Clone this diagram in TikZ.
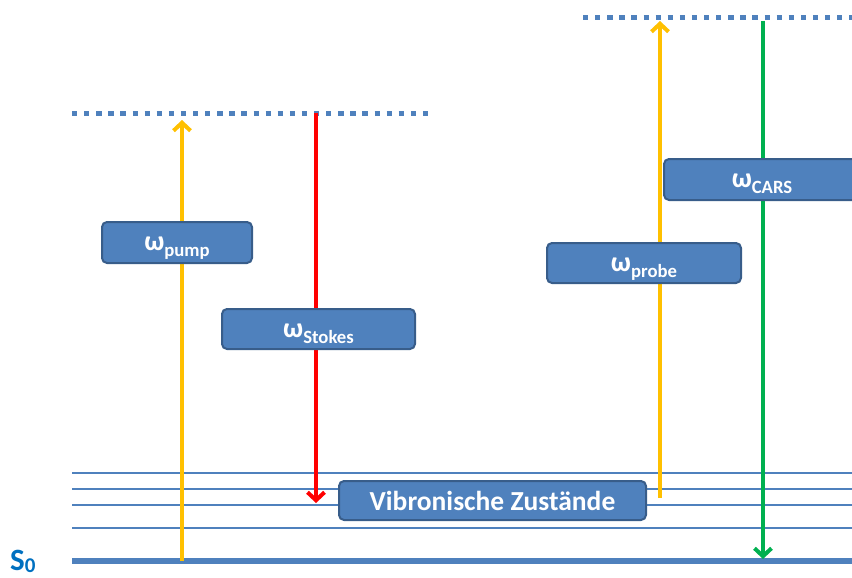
\documentclass[tikz,border=0pt]{standalone}
\usepackage{fontspec}
\setmainfont{Carlito}
\usetikzlibrary{arrows.meta}

\definecolor{niveau}{HTML}{4F81BD}
\definecolor{rahmen}{HTML}{385D8A}
\definecolor{gelb}{HTML}{FFC000}
\definecolor{rot}{HTML}{FF0000}
\definecolor{gruen}{HTML}{00B050}
\definecolor{sblau}{HTML}{0070C0}

\tikzset{
  feld/.style={draw=rahmen, fill=niveau, line width=2pt, rounded corners=5pt,
    text=white, inner sep=0pt, font=\bfseries\fontsize{27.5}{30}\selectfont},
  omfeld/.style={feld, font=\bfseries\fontsize{28}{30}\selectfont,
    text height=18pt, text depth=2pt},
  virtuell/.style={niveau, line width=5pt, dash pattern=on 5.3pt off 6.8pt},
  strahl/.style={line width=4pt, -{Straight Barb[length=8pt,width=17pt]}},
}
\newcommand{\om}[1]{ω\raisebox{-6pt}{\fontsize{18.7}{20}\selectfont #1}}

\begin{document}
\begin{tikzpicture}[x=1pt,y=-1pt]
    \useasboundingbox (0,0) rectangle (852,578);
    \clip (0,0) rectangle (852,578);

    % Niveaus
    \foreach \y in {473,489,505,528} {
        \draw[niveau, line width=2.5pt] (72,\y) -- (852,\y);
    }
    \draw[niveau, line width=5.5pt] (72,561) -- (852,561);
    \draw[virtuell] (72,113) -- (430,113);
    \draw[virtuell] (583,18) -- (852,18);

    \node[text=sblau, font=\bfseries\fontsize{31}{31}\selectfont, anchor=base west, inner sep=0pt]
        (s0) at (10,570) {S\raisebox{-2pt}{\fontsize{21}{21}\selectfont 0}};

    % Strahlen
    \coordinate (pumpA) at (182,561);
    \coordinate (pumpE) at (182,120);
    \coordinate (stokesA) at (316,113);
    \coordinate (stokesE) at (316,503);
    \coordinate (probeA) at (660,498);
    \coordinate (probeE) at (660,21);
    \coordinate (carsA) at (763,21);
    \coordinate (carsE) at (763,559);

    \draw[strahl, gelb] (pumpA) -- (pumpE);
    \draw[strahl, rot] (stokesA) -- (stokesE);
    \draw[strahl, gelb] (probeA) -- (probeE);
    \draw[strahl, gruen] (carsA) -- (carsE);

    % Beschriftungen
    \node[omfeld, minimum width=150pt, minimum height=41pt] (pump) at (177,242.5) {\om{pump}};
    \node[omfeld, minimum width=193pt, minimum height=40pt] (stokes) at (318.5,329) {\om{Stokes}};
    \node[omfeld, minimum width=194pt, minimum height=40pt] (probe) at (644,263) {\om{probe}};
    \node[omfeld, minimum width=196pt, minimum height=41pt] (cars) at (762,179.5) {\om{CARS}};
    \node[feld, minimum width=307pt, minimum height=39pt] (vib) at (492.5,500.5) {Vibronische Zustände};
\end{tikzpicture}
\end{document}
